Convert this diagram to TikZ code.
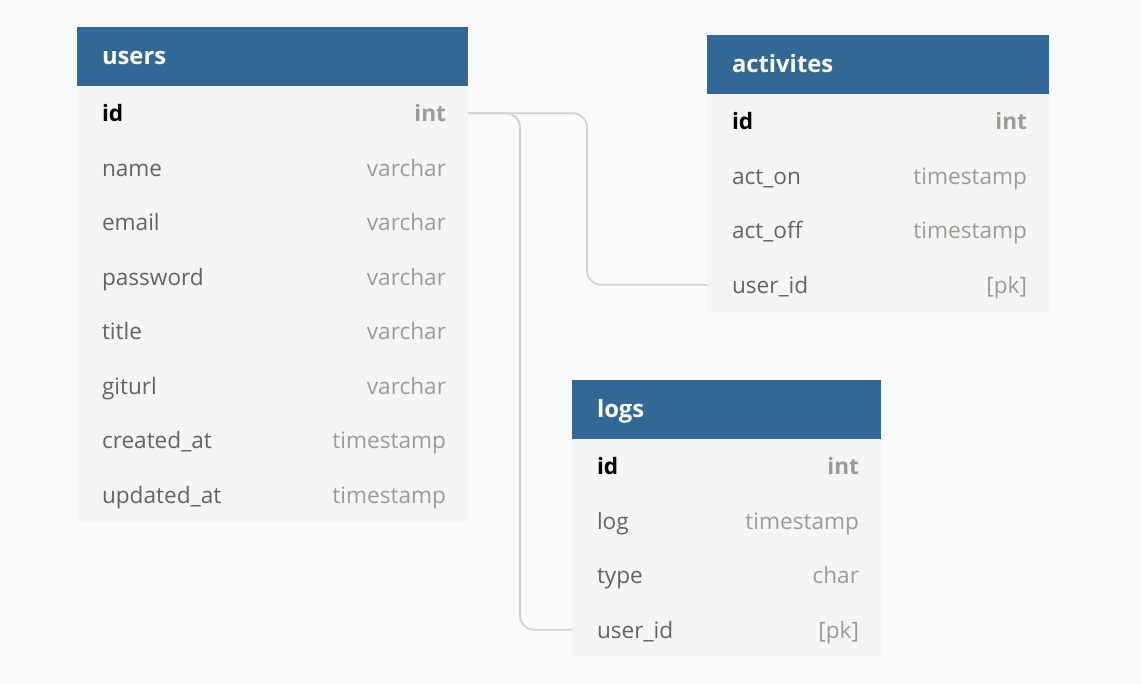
\documentclass[tikz,border=0pt]{standalone}
\usepackage{fontspec}
\setmainfont{Open Sans}
\definecolor{pagebg}{HTML}{FAFAFA}
\definecolor{hdblue}{HTML}{316896}
\definecolor{rowbg}{HTML}{F5F5F5}
\definecolor{fieldtxt}{HTML}{636363}
\definecolor{typetxt}{HTML}{9E9A96}
\definecolor{linkgray}{HTML}{D2D2D2}

\begin{document}
\begin{tikzpicture}[x=1pt,y=-1pt, every node/.style={inner sep=0pt, outer sep=0pt},
  tblhead/.style={fill=hdblue, anchor=north west, minimum height=59pt},
  tbltitle/.style={anchor=base west, text=white, font=\fontsize{23.8}{28}\selectfont\bfseries},
  tblrow/.style={fill=rowbg, anchor=north west, minimum height=54.5pt},
  fname/.style={anchor=base west, text=fieldtxt, font=\fontsize{22.6}{26}\selectfont},
  ftype/.style={anchor=base east, text=typetxt, font=\fontsize{22.6}{26}\selectfont},
  pkname/.style={fname, text=black, font=\fontsize{22.6}{26}\selectfont\bfseries},
  pktype/.style={ftype, font=\fontsize{22.6}{26}\selectfont\bfseries},
  link/.style={draw=linkgray, line width=1.8pt, rounded corners=14pt}]
\fill[pagebg] (0,0) rectangle (1141,684);
\useasboundingbox (0,0) rectangle (1141,684);

% users
\node[tblhead, minimum width=391pt] (users) at (77,27) {};
\node[tbltitle] (users-title) at ([xshift=25pt,yshift=-8.3pt]users.west) {users};
\node[tblrow, minimum width=391pt] (users-1) at (77,86) {};
\node[pkname] (users-1-n) at ([xshift=25pt,yshift=-8.5pt]users-1.west) {id};
\node[pktype] (users-1-t) at ([xshift=-22pt,yshift=-8.5pt]users-1.east) {int};
\foreach \f/\t [count=\i from 2] in {name/varchar, email/varchar, password/varchar, title/varchar, giturl/varchar, created\_at/timestamp, updated\_at/timestamp} {
  \node[tblrow, minimum width=391pt] (users-\i) at (77,{86+54.5*(\i-1)}) {};
  \node[fname] (users-\i-n) at ([xshift=25pt,yshift=-8.5pt]users-\i.west) {\f};
  \node[ftype] (users-\i-t) at ([xshift=-22pt,yshift=-8.5pt]users-\i.east) {\t};
}

% activites
\node[tblhead, minimum width=342pt] (activites) at (707,35) {};
\node[tbltitle] (activites-title) at ([xshift=25pt,yshift=-8.3pt]activites.west) {activites};
\node[tblrow, minimum width=342pt] (activites-1) at (707,94) {};
\node[pkname] (activites-1-n) at ([xshift=25pt,yshift=-8.5pt]activites-1.west) {id};
\node[pktype] (activites-1-t) at ([xshift=-22pt,yshift=-8.5pt]activites-1.east) {int};
\foreach \f/\t [count=\i from 2] in {act\_on/timestamp, act\_off/timestamp, user\_id/{[pk]}} {
  \node[tblrow, minimum width=342pt] (activites-\i) at (707,{94+54.5*(\i-1)}) {};
  \node[fname] (activites-\i-n) at ([xshift=25pt,yshift=-8.5pt]activites-\i.west) {\f};
  \node[ftype] (activites-\i-t) at ([xshift=-22pt,yshift=-8.5pt]activites-\i.east) {\t};
}

% logs
\node[tblhead, minimum width=309pt] (logs) at (572,380) {};
\node[tbltitle] (logs-title) at ([xshift=25pt,yshift=-8.3pt]logs.west) {logs};
\node[tblrow, minimum width=309pt] (logs-1) at (572,439) {};
\node[pkname] (logs-1-n) at ([xshift=25pt,yshift=-8.5pt]logs-1.west) {id};
\node[pktype] (logs-1-t) at ([xshift=-22pt,yshift=-8.5pt]logs-1.east) {int};
\foreach \f/\t [count=\i from 2] in {log/timestamp, type/char, user\_id/{[pk]}} {
  \node[tblrow, minimum width=309pt] (logs-\i) at (572,{439+54.5*(\i-1)}) {};
  \node[fname] (logs-\i-n) at ([xshift=25pt,yshift=-8.5pt]logs-\i.west) {\f};
  \node[ftype] (logs-\i-t) at ([xshift=-22pt,yshift=-8.5pt]logs-\i.east) {\t};
}

% refs
\draw[link] (users-1.east) -- ++(119,0) |- (activites-4.west);
\draw[link] (users-1.east) -- ++(52,0) |- (logs-4.west);
\end{tikzpicture}
\end{document}
